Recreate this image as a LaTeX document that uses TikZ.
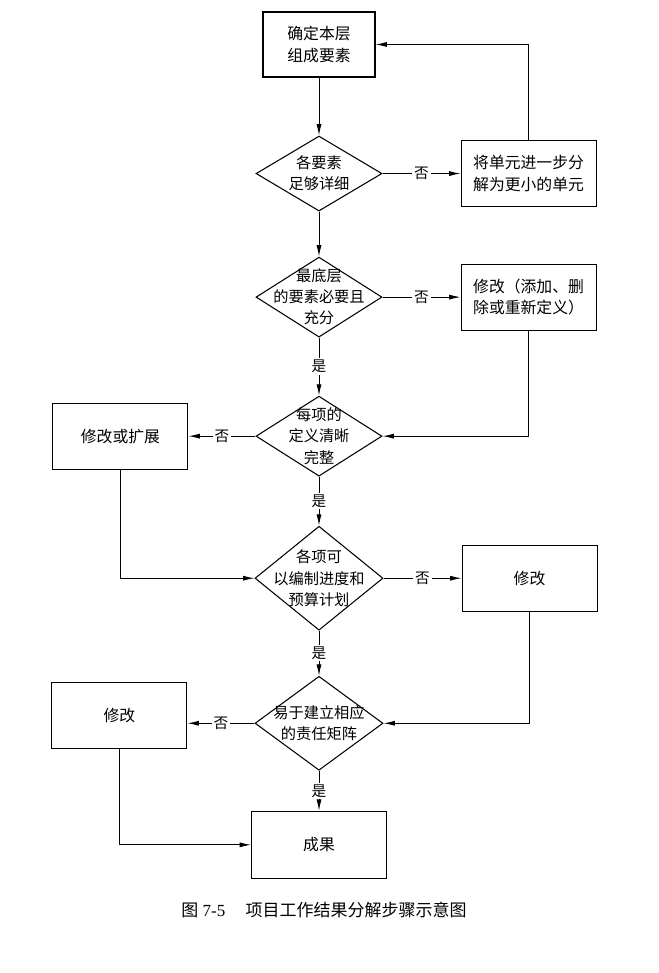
\documentclass[tikz,border=0pt]{standalone}
\usepackage{fontspec}
\setmainfont{Liberation Serif}
\newfontfamily\cjk{Noto Sans CJK SC}
\usetikzlibrary{arrows.meta,positioning,shapes.geometric}

\begin{document}
\begin{tikzpicture}[
    node distance=15mm,
    box/.style={rectangle, draw=black, line width=0.9pt, align=center,
                minimum width=40.5mm, minimum height=19.8mm,
                font=\cjk\fontsize{13.5pt}{18pt}\selectfont},
    dia/.style={diamond, draw=black, line width=0.9pt, inner sep=0pt,
                minimum width=37.8mm, minimum height=24mm},
    dtext/.style={align=center, font=\cjk\fontsize{13pt}{18pt}\selectfont},
    yn/.style={fill=white, inner sep=1.5pt, font=\cjk\fontsize{12.5pt}{14pt}\selectfont},
    flow/.style={-{Latex[length=3.4mm,width=1.5mm]}, line width=0.8pt}
]
\useasboundingbox (-95.7mm,13.35mm) rectangle (101.7mm,-278.55mm);
\node[box, minimum width=33.6mm, minimum height=19.5mm] (b1) at (0,0) {确定本层\\组成要素};
\node[dia, minimum height=22.5mm, below=17.4mm of b1, label={[dtext]center:各要素\\足够详细}] (d1) {};
\node[box, right=23.4mm of d1] (b2) {将单元进一步分\\解为更小的单元};
\node[dia, below=13.5mm of d1, label={[dtext]center:最底层\\的要素必要且\\充分}] (d2) {};
\node[box, right=23.4mm of d2] (b3) {修改（添加、删\\除或重新定义）};
\node[dia, below=17.4mm of d2, label={[dtext]center:每项的\\定义清晰\\完整}] (d3) {};
\node[box, left=20.1mm of d3] (b4) {修改或扩展};
\node[dia, minimum width=38.4mm, minimum height=31.2mm, below=14.7mm of d3, label={[dtext]center:各项可\\以编制进度和\\预算计划}] (d4) {};
\node[box, right=23.4mm of d4] (b5) {修改};
\node[dia, minimum width=38.4mm, minimum height=28.2mm, below=13.5mm of d4, label={[dtext]center:易于建立相应\\的责任矩阵}] (d5) {};
\node[box, left=20.1mm of d5, yshift=2.4mm] (b6) {修改};
\node[box, minimum height=20.1mm, below=12mm of d5] (b7) {成果};
\node[below=5.6mm of b7, xshift=1.5mm, font=\fontsize{14.5pt}{16pt}\selectfont] (cap) {{\cjk 图} 7-5\hspace{1.2em}{\cjk 项目工作结果分解步骤示意图}};
% main line
\draw[flow] (b1) -- (d1);
\draw[flow] (d1) -- (d2);
\draw[flow] (d2) -- node[yn]{是} (d3);
\draw[flow] (d3) -- node[yn]{是} (d4);
\draw[flow] (d4) -- node[yn]{是} (d5);
\draw[flow] (d5) -- node[yn]{是} (b7);
% no branches
\draw[flow] (d1) -- node[yn]{否} (b2);
\draw[flow] (d2) -- node[yn]{否} (b3);
\draw[flow] (d3) -- node[yn]{否} (b4);
\draw[flow] (d4) -- node[yn]{否} (b5);
\draw[flow] (d5.west) -- node[yn]{否} (d5.west -| b6.east);
% back into the line
\draw[flow] (b2.north) |- (b1.east);
\draw[flow] (b3.south) |- (d3.east);
\draw[flow] (b4.south) |- (d4.west);
\draw[flow] (b5.south) |- (d5.east);
\draw[flow] (b6.south) |- (b7.west);
\end{tikzpicture}
\end{document}
